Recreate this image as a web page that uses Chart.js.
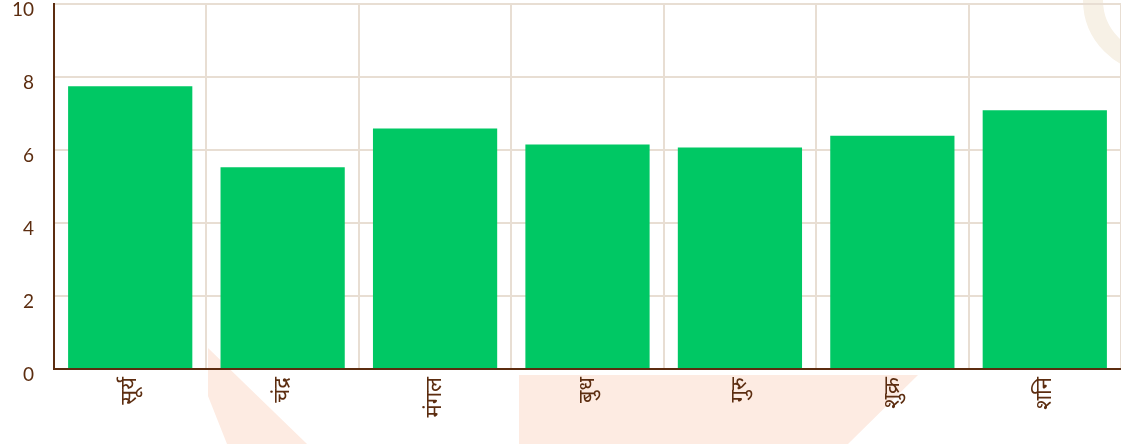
<!DOCTYPE html>
<html lang="hi">
<head>
<meta charset="utf-8">
<title>ग्रह बल</title>
<script src="https://cdn.jsdelivr.net/npm/chart.js@4.4.1/dist/chart.umd.min.js"></script>
<style>
    html, body { margin: 0; padding: 0; background: #ffffff; }
    #wrap { position: relative; width: 1121px; height: 444px; }
</style>
</head>
<body>
<div id="wrap"><canvas id="grahaChart"></canvas></div>
<script>
// --- DONNÉES ---
const grahaLabels = ['सूर्य', 'चंद्र', 'मंगल', 'बुध', 'गुरु', 'शुक्र', 'शनि'];
const grahaScores = [7.75, 5.53, 6.59, 6.15, 6.07, 6.39, 7.09];
const yTicks = [0, 2, 4, 6, 8, 10];

// --- COULEURS ---
const barGreen = '#00c864';
const brown = '#5c2d10';
const gridBeige = '#e8ded3';

// Filigrane du logo en fond (formes pâles derrière le graphique)
const watermark = {
    id: 'watermark',
    beforeDraw(chart) {
        const ctx = chart.ctx;
        ctx.save();
        ctx.fillStyle = '#fdebe2';
        ctx.beginPath();
        ctx.moveTo(208, 348);
        ctx.lineTo(307, 444);
        ctx.lineTo(227, 444);
        ctx.lineTo(208, 396);
        ctx.closePath();
        ctx.fill();

        ctx.beginPath();
        ctx.moveTo(519, 375);
        ctx.lineTo(918, 375);
        ctx.lineTo(848, 444);
        ctx.lineTo(519, 444);
        ctx.closePath();
        ctx.fill();

        ctx.strokeStyle = '#f7f1e6';
        ctx.lineWidth = 20;
        ctx.beginPath();
        ctx.arc(1156, 0, 63, 0, Math.PI * 2);
        ctx.stroke();
        ctx.restore();
    }
};

const ctxBar = document.getElementById('grahaChart').getContext('2d');
new Chart(ctxBar, {
    type: 'bar',
    data: {
        labels: grahaLabels,
        datasets: [{
            data: grahaScores,
            backgroundColor: barGreen,
            borderWidth: 0,
            categoryPercentage: 1,
            barPercentage: 0.815
        }]
    },
    options: {
        responsive: true,
        maintainAspectRatio: false,
        animation: false,
        layout: { padding: { top: 4, left: 0, right: 0, bottom: 0 } },
        plugins: { legend: { display: false }, tooltip: { enabled: false } },
        scales: {
            x: {
                grid: { color: gridBeige, lineWidth: 2, drawTicks: false },
                border: { color: brown, width: 2 },
                ticks: {
                    color: brown,
                    font: { family: "'Noto Sans', sans-serif", size: 22 },
                    minRotation: 90, maxRotation: 90,
                    padding: 8
                },
                afterFit(scale) {
                    scale.height = 75;
                    scale.paddingLeft = 0;
                    scale.paddingRight = 0;
                }
            },
            y: {
                min: 0, max: 10,
                afterBuildTicks(scale) { scale.ticks = yTicks.map(v => ({ value: v })); },
                grid: { color: gridBeige, lineWidth: 2, drawTicks: false },
                border: { color: brown, width: 2 },
                ticks: {
                    color: brown,
                    font: { family: "Lato, 'Noto Sans', sans-serif", size: 19 },
                    padding: 20,
                    labelOffset: 6
                },
                afterFit(scale) {
                    scale.width = 54;
                    scale.paddingTop = 0;
                    scale.paddingBottom = 0;
                }
            }
        }
    },
    plugins: [watermark]
});
</script>
</body>
</html>
